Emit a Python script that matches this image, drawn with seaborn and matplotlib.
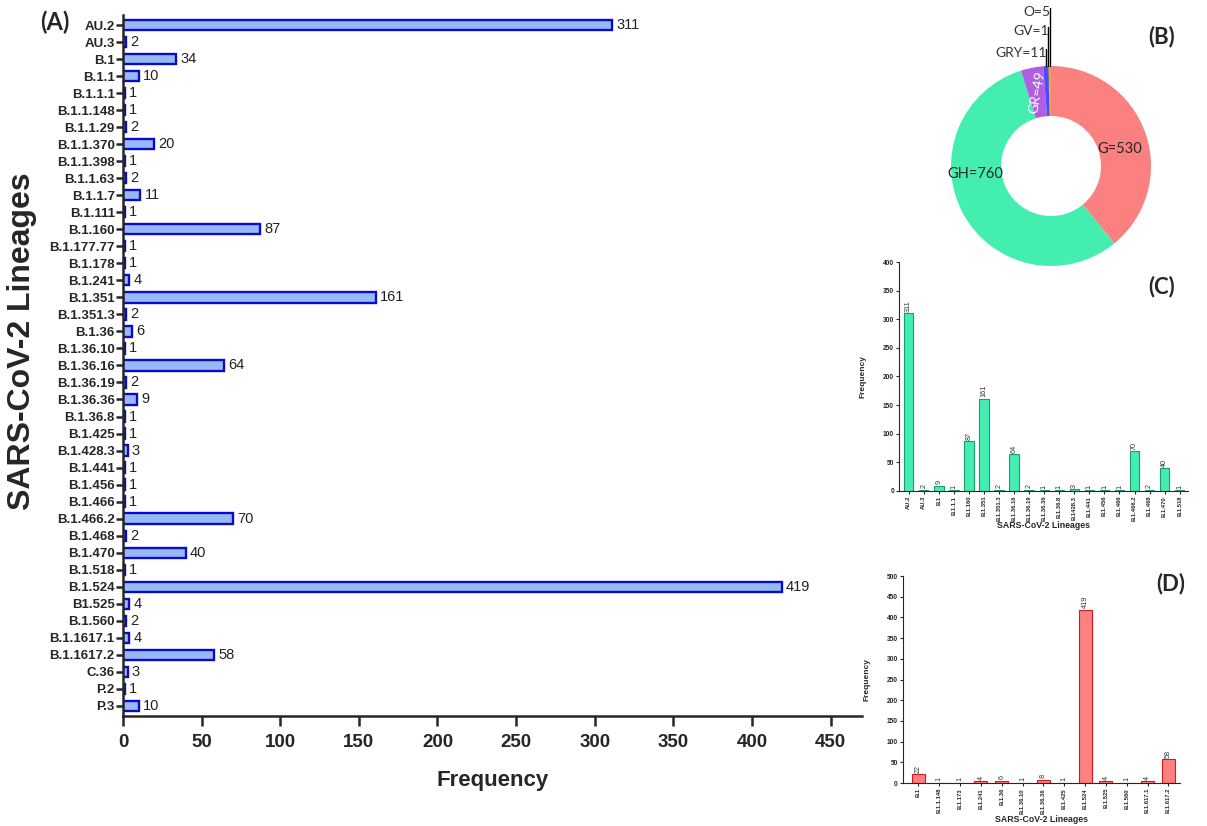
import numpy as np
import pandas as pd
import matplotlib
matplotlib.use('Agg')
import matplotlib.pyplot as plt
import seaborn as sns

# panel A: all lineages
lineages_all = ['AU.2', 'AU.3', 'B.1', 'B.1.1', 'B.1.1.1', 'B.1.1.148', 'B.1.1.29', 'B.1.1.370',
                'B.1.1.398', 'B.1.1.63', 'B.1.1.7', 'B.1.111', 'B.1.160', 'B.1.177.77', 'B.1.178',
                'B.1.241', 'B.1.351', 'B.1.351.3', 'B.1.36', 'B.1.36.10', 'B.1.36.16', 'B.1.36.19',
                'B.1.36.36', 'B.1.36.8', 'B.1.425', 'B.1.428.3', 'B.1.441', 'B.1.456', 'B.1.466',
                'B.1.466.2', 'B.1.468', 'B.1.470', 'B.1.518', 'B.1.524', 'B1.525', 'B.1.560',
                'B.1.1617.1', 'B.1.1617.2', 'C.36', 'P.2', 'P.3']
freq_all = [311, 2, 34, 10, 1, 1, 2, 20, 1, 2, 11, 1, 87, 1, 1, 4, 161, 2, 6, 1, 64, 2, 9, 1, 1,
            3, 1, 1, 1, 70, 2, 40, 1, 419, 4, 2, 4, 58, 3, 1, 10]

# panel B: clades
clades = ['G', 'GH', 'GR', 'GRY', 'GV', 'O']
clade_counts = [530, 760, 49, 11, 1, 5]
clade_colors = ['#fb8080', '#44eeb0', '#b25ee0', '#4b4bff', '#222222', '#f5a040']

# panel C
lineages_c = ['AU.2', 'AU.3', 'B.1', 'B.1.1.1', 'B.1.160', 'B.1.351', 'B.1.351.3', 'B.1.36.16',
              'B.1.36.19', 'B.1.36.36', 'B.1.36.8', 'B.1428.3', 'B.1.441', 'B.1.456', 'B.1.466',
              'B.1.466.2', 'B.1.468', 'B.1.470', 'B.1.518']
freq_c = [311, 2, 9, 1, 87, 161, 2, 64, 2, 1, 1, 3, 1, 1, 1, 70, 2, 40, 1]

# panel D
lineages_d = ['B.1', 'B.1.1.148', 'B.1.173', 'B.1.241', 'B.1.36', 'B.1.36.10', 'B.1.36.36',
              'B.1.425', 'B.1.524', 'B.1.525', 'B.1.560', 'B.1.617.1', 'B.1.617.2']
freq_d = [22, 1, 1, 4, 6, 1, 8, 1, 419, 4, 1, 4, 58]

sns.set_style('ticks')
plt.rcParams['font.family'] = ['Liberation Sans', 'DejaVu Sans']
plt.rcParams['axes.linewidth'] = 1.8
lato = ['Lato', 'DejaVu Sans']

fig = plt.figure(figsize=(12.07, 8.26), dpi=100)


def small_bars(ax, cats, vals, fill, edge, ymax, xlab_pad):
    df = pd.DataFrame({'lineage': cats, 'freq': vals})
    sns.barplot(data=df, x='lineage', y='freq', color=fill, edgecolor=edge,
                linewidth=0.8, width=0.62, saturation=1, ax=ax)
    for c in ax.containers:
        ax.bar_label(c, padding=1, fontsize=5.2, rotation=90, color='#333333')
    ax.set_ylim(0, ymax)
    ax.set_yticks(np.arange(0, ymax + 1, 50))
    ax.tick_params(axis='x', labelsize=4.2, rotation=90, width=0.8, length=2.5, pad=1)
    ax.tick_params(axis='y', labelsize=4.8, width=0.8, length=2.5, pad=1)
    for t in ax.get_yticklabels() + ax.get_xticklabels():
        t.set_fontweight('bold')
    for s in ax.spines.values():
        s.set_linewidth(0.8)
    ax.set_xlabel('SARS-CoV-2 Lineages', fontsize=6.3, fontweight='bold', labelpad=xlab_pad)
    ax.set_ylabel('Frequency', fontsize=6, fontweight='bold', labelpad=12)
    ax.set_facecolor('none')
    sns.despine(ax=ax)


# ---------------- panel A
ax = fig.add_axes([0.1019, 0.1332, 0.6123, 0.8487])
ax.set_facecolor('none')
df_a = pd.DataFrame({'lineage': lineages_all, 'freq': freq_all})
sns.barplot(data=df_a, x='freq', y='lineage', orient='h', color='#97baf7',
            edgecolor='#0a0acc', linewidth=1.7, width=0.6, saturation=1, ax=ax)
for c in ax.containers:
    ax.bar_label(c, padding=3, fontsize=10.5, color='#222222')
ax.set_xlim(0, 470)
ax.set_ylim(len(lineages_all) - 0.4, -0.6)
ax.set_xticks(np.arange(0, 451, 50))
ax.tick_params(axis='y', labelsize=9.5, width=1.8, length=5, pad=1)
ax.tick_params(axis='x', labelsize=13.5, width=1.8, length=7, pad=6)
for t in ax.get_yticklabels() + ax.get_xticklabels():
    t.set_fontweight('bold')
ax.set_xlabel('Frequency', fontsize=16, fontweight='bold', labelpad=14)
ax.set_ylabel('SARS-CoV-2 Lineages', fontsize=23, fontweight='bold')
ax.yaxis.set_label_coords(-0.116, 0.535)
sns.despine(ax=ax)
fig.text(0.033, 0.963, '(A)', fontsize=17, fontweight='bold', family=lato)

# ---------------- panel C
axc = fig.add_axes([0.7448, 0.4056, 0.2394, 0.2772])
small_bars(axc, lineages_c, freq_c, '#44eeb0', '#1f9a6a', 400, 0)
axc.set_xlim(-0.65, len(lineages_c) - 0.45)
fig.text(0.962, 0.645, '(C)', fontsize=16, fontweight='bold', family=lato, ha='center')

# ---------------- panel D
axd = fig.add_axes([0.748, 0.052, 0.2295, 0.2506])
small_bars(axd, lineages_d, freq_d, '#ff8080', '#d01c1c', 500, 1)
axd.set_xlim(-0.75, len(lineages_d) - 0.45)
fig.text(0.97, 0.285, '(D)', fontsize=16, fontweight='bold', family=lato, ha='center')

# ---------------- panel B (donut)
axb = fig.add_axes([921 / 1207, (826 - 276) / 826, 260 / 1207, 270 / 826])
wedges, _ = axb.pie(clade_counts, colors=clade_colors, startangle=90, counterclock=False,
                    wedgeprops=dict(width=0.5, edgecolor='none'))
axb.set_xlim(-1.3, 1.3)
axb.set_ylim(-1.1, 1.6)
axb.set_aspect('equal')
axb.axis('off')
axb.text(0.69, 0.17, 'G=530', fontsize=10.5, ha='center', va='center', family=lato)
axb.text(-0.76, -0.08, 'GH=760', fontsize=10.5, ha='center', va='center', family=lato)
th_gr = np.deg2rad((wedges[2].theta1 + wedges[2].theta2) / 2)
axb.text(0.75 * np.cos(th_gr), 0.75 * np.sin(th_gr), 'GR=49', fontsize=10, color='white',
         ha='center', va='center', rotation=80, family=lato)
label_y = {'GRY': 1.07, 'GV': 1.29, 'O': 1.48}
for w, name, cnt in zip(wedges[3:], clades[3:], clade_counts[3:]):
    th = np.deg2rad((w.theta1 + w.theta2) / 2)
    x0 = np.cos(th)
    y_lab = label_y[name]
    axb.plot([x0, x0], [np.sin(th), y_lab + 0.1], color='black', lw=1.0)
    axb.text(x0 + 0.01, y_lab, '%s=%d' % (name, cnt), fontsize=10, ha='right', va='bottom',
             family=lato, color='#333333')
fig.text(0.962, 0.948, '(B)', fontsize=16, fontweight='bold', family=lato, ha='center')

fig.savefig('out.png', dpi=100, facecolor='white')
